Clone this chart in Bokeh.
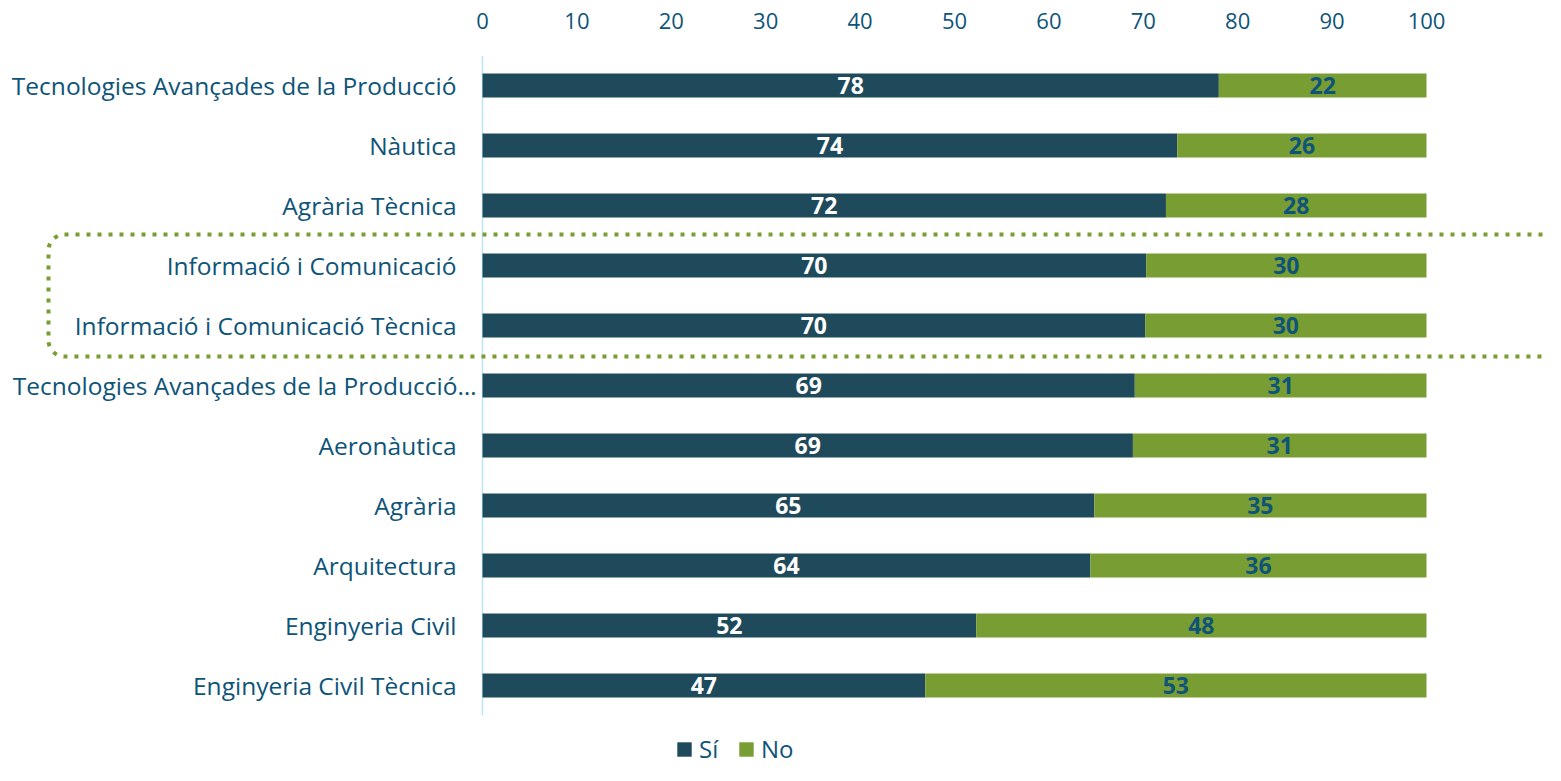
from bokeh.plotting import figure
from bokeh.models import (Range1d, ColumnDataSource, Legend, LegendItem,
                          BoxAnnotation, FixedTicker)
from bokeh.core.properties import value
from bokeh.embed import file_html
from bokeh.resources import INLINE

categories = [
    "Tecnologies Avançades de la Producció",
    "Nàutica",
    "Agrària Tècnica",
    "Informació i Comunicació",
    "Informació i Comunicació Tècnica",
    "Tecnologies Avançades de la Producció…",
    "Aeronàutica",
    "Agrària",
    "Arquitectura",
    "Enginyeria Civil",
    "Enginyeria Civil Tècnica",
]
si = [78.0, 73.6, 72.4, 70.3, 70.2, 69.1, 68.9, 64.8, 64.4, 52.3, 46.9]
no = [22.0, 26.4, 27.6, 29.7, 29.8, 30.9, 31.1, 35.2, 35.6, 47.7, 53.1]
x_ticks = [0, 10, 20, 30, 40, 50, 60, 70, 80, 90, 100]

DARK = "#1F4A5C"
GREEN = "#789E33"
TEXT = "#0E5479"
AXIS = "#BDE3F7"
FONT = "Open Sans"

W, H = 1545, 765
TOP = 55                      # frame top on the canvas
ROW = 60.0                    # pixels per category row
PX_LEFT, PX_RIGHT = 482, 1426  # where 0 and 100 sit on the canvas
PX_PER = (PX_RIGHT - PX_LEFT) / 100.0

n = len(categories)
# truncated labels (ending in an ellipsis) run up to the axis line
label_offsets = [-6 if c.endswith("…") else -26 for c in categories]

src = ColumnDataSource(dict(
    cat=categories,
    pos=list(range(n)),
    si=si,
    no=no,
    zero=[0] * n,
    off=label_offsets,
    si_mid=[s / 2 for s in si],
    no_mid=[s + v / 2 for s, v in zip(si, no)],
    si_lbl=[str(int(round(s))) for s in si],
    no_lbl=[str(int(round(v))) for v in no],
))

p = figure(
    width=W, height=H,
    # row 0 at the top; frame continues below the last row to hold the legend
    y_range=Range1d(-0.5 + (H - TOP) / ROW, -0.5),
    x_range=Range1d(-PX_LEFT / PX_PER, (W - PX_LEFT) / PX_PER),
    x_axis_location="above",
    output_backend="svg", toolbar_location=None,
    min_border_left=0, min_border_right=0,
    min_border_top=TOP, min_border_bottom=0,
)

# vertical axis line at x = 0, only alongside the rows
p.segment(x0=[0], y0=[-0.5], x1=[0], y1=[n - 0.5], line_color=AXIS,
          line_width=1.5)

rs = p.hbar_stack(["si", "no"], y="pos", height=0.4, color=[DARK, GREEN],
                  source=src, line_width=0)

# category labels (left of the zero line)
p.text(x="zero", y="pos", text="cat", source=src, x_offset="off",
       text_align="right", text_baseline="middle", text_color=TEXT,
       text_font=value(FONT), text_font_size="24.5px")

p.text(x="si_mid", y="pos", text="si_lbl", source=src, text_align="center",
       text_baseline="middle", text_color="white", text_font=value(FONT),
       text_font_style="bold", text_font_size="23px")
p.text(x="no_mid", y="pos", text="no_lbl", source=src, text_align="center",
       text_baseline="middle", text_color=TEXT, text_font=value(FONT),
       text_font_style="bold", text_font_size="23px")

box = BoxAnnotation(left=48, right=1700, top=234, bottom=356,
                    left_units="canvas", right_units="canvas",
                    top_units="canvas", bottom_units="canvas",
                    fill_color=None, fill_alpha=0, line_color=GREEN,
                    line_alpha=1, line_width=4, line_dash="4 7",
                    border_radius=16, level="overlay")
p.add_layout(box)

legend = Legend(items=[LegendItem(label="Sí", renderers=[rs[0]]),
                       LegendItem(label="No", renderers=[rs[1]])],
                location=(675, 0), orientation="horizontal",
                label_text_font=FONT, label_text_font_size="24px",
                label_text_color=TEXT, glyph_width=18, glyph_height=18,
                label_standoff=6, spacing=18, padding=0, margin=0,
                border_line_color=None, background_fill_alpha=0)
p.add_layout(legend)

p.xaxis.ticker = FixedTicker(ticks=x_ticks)
p.xaxis.axis_line_color = None
p.xaxis.major_tick_line_color = None
p.xaxis.minor_tick_line_color = None
p.xaxis.major_label_standoff = 21
p.xaxis.major_label_text_font = FONT
p.xaxis.major_label_text_font_size = "22px"
p.xaxis.major_label_text_color = TEXT

p.yaxis.visible = False
p.grid.visible = False
p.outline_line_color = None

open("out.html", "w").write(file_html(p, INLINE))
